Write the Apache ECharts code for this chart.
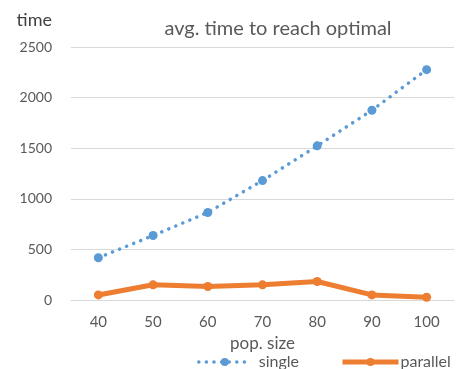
<!DOCTYPE html>
<html><head><meta charset="utf-8">
<script src="https://cdn.jsdelivr.net/npm/echarts@6/dist/echarts.min.js"></script>
<style>html,body{margin:0;padding:0;background:#fff}#c{width:457px;height:369px}</style>
</head><body><div id="c"></div>
<script>
const categories = ['40','50','60','70','80','90','100'];
const singleValues = [418, 637, 865, 1180, 1523, 1875, 2276];
const parallelValues = [50, 150, 133, 150, 183, 50, 27];
const yTicks = [0, 500, 1000, 1500, 2000, 2500];

const font = 'Lato, "Open Sans", sans-serif';
const chart = echarts.init(document.getElementById('c'));
chart.setOption({
  animation: false,
  title: { text: 'avg. time to reach optimal', left: 273, top: 14, textAlign: 'center',
    textStyle: { fontFamily: font, fontSize: 20, fontWeight: 'normal', color: '#595959' } },
  grid: { left: 71, right: 3, top: 47, bottom: 69 },
  legend: [
    { left: 195, top: 352, itemWidth: 52, itemHeight: 10, itemGap: 5, padding: 2,
      lineStyle: { width: 3.5 },
      textStyle: { fontFamily: font, fontSize: 16, color: '#595959', padding: [0, 0, 0, 3] }, data: ['single'] },
    { left: 338, top: 352, itemWidth: 56, itemHeight: 10, itemGap: 5, padding: 2,
      lineStyle: { width: 5 },
      textStyle: { fontFamily: font, fontSize: 16, color: '#595959', padding: [0, 0, 0, -3] }, data: ['parallel'] }
  ],
  xAxis: { type: 'category', data: categories, boundaryGap: true,
    name: 'pop. size', nameLocation: 'middle', nameGap: 35,
    nameTextStyle: { fontFamily: font, fontSize: 17, color: '#595959' },
    axisLine: { lineStyle: { color: '#d9d9d9' } }, axisTick: { show: false },
    axisLabel: { fontFamily: font, fontSize: 15, color: '#595959', margin: 15 } },
  yAxis: { type: 'value', min: yTicks[0], max: yTicks[yTicks.length-1], interval: 500,
    name: 'time', nameLocation: 'end', nameGap: 18,
    nameTextStyle: { fontFamily: font, fontSize: 18, color: '#404040', align: 'right', padding: [0, 19, 0, 0] },
    axisLine: { show: false }, axisTick: { show: false },
    splitLine: { lineStyle: { color: '#d9d9d9' } },
    axisLabel: { fontFamily: font, fontSize: 14, color: '#595959', margin: 19,
      formatter: function (v) { return String(v); } } },
  series: [
    { name: 'single', type: 'line', data: singleValues, symbol: 'circle', symbolSize: 9,
      itemStyle: { color: '#5B9BD5' },
      lineStyle: { color: '#5B9BD5', width: 3.5, type: [0.1, 7.5], cap: 'round' } },
    { name: 'parallel', type: 'line', data: parallelValues, symbol: 'circle', symbolSize: 9,
      itemStyle: { color: '#ED7D31' },
      lineStyle: { color: '#ED7D31', width: 5 } }
  ]
});
</script></body></html>
